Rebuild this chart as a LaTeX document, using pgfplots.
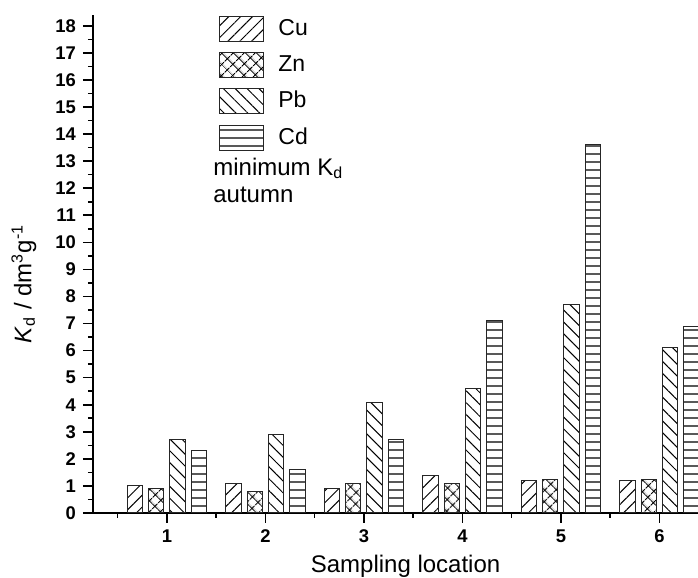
\documentclass[border=0pt]{standalone}
\usepackage{amsmath}
\usepackage{fontspec}
\setmainfont{Liberation Sans}
\usepackage{pgfplots}
\pgfplotsset{compat=1.18}
\usetikzlibrary{patterns.meta}
\pgfplotsset{
  legbox/.style={legend image code/.code={\draw[##1,line width=0.5pt] (0pt,-6.25pt) rectangle (22pt,6.25pt);}},
  barsty/.style={draw=black!85, line width=0.5pt, legbox},
}
\begin{document}
\begin{tikzpicture}
\begin{axis}[
  scale only axis, width=302.9pt, height=249pt,
  xmin=0.25, xmax=6.4, ymin=0, ymax=18.4,
  enlargelimits=false,
  ybar, bar width=0.157,
  axis x line=bottom, axis y line=left,
  axis line style={-, line width=0.9pt},
  xtick={1,...,6}, minor xtick={0.5,1.5,...,5.5},
  ytick={0,1,...,18}, minor ytick={0.5,1.5,...,17.5},
  tick align=outside, major tick length=5pt, minor tick length=2.5pt,
  every tick/.style={line width=0.8pt, black},
  /pgf/number format/assume math mode=true,
  ticklabel style={font=\bfseries\fontsize{9.2}{11}\selectfont},
  xlabel={Sampling location},
  xlabel style={at={(axis description cs:0.516,-0.1185)}, anchor=base, font=\fontsize{12}{14}\selectfont},
  ylabel={\textit{K}$_\text{d}$ / dm$^\text{3}$g$^\text{-1}$},
  ylabel style={at={(axis description cs:-0.114,0.46)}, anchor=center, font=\fontsize{12}{14}\selectfont},
  legend style={at={(axis description cs:0.208,1)}, anchor=north west, draw=none, fill=none,
    font=\fontsize{11.5}{13}\selectfont, row sep=4.5pt, column sep=5pt, inner sep=0pt},
  legend cell align=left,
  clip=true,
]
\addplot[barsty, bar shift=-0.324, pattern={Lines[angle=45,distance=4.2pt,line width=0.5pt]}] coordinates {(1,1.0) (2,1.1) (3,0.9) (4,1.4) (5,1.2) (6,1.2)};
\addlegendentry{Cu}
\addplot[barsty, bar shift=-0.108, pattern={Hatch[angle=45,distance=4pt,line width=0.5pt]}] coordinates {(1,0.9) (2,0.8) (3,1.1) (4,1.1) (5,1.25) (6,1.25)};
\addlegendentry{Zn}
\addplot[barsty, bar shift=0.108, pattern={Lines[angle=-45,distance=4.2pt,line width=0.5pt]}] coordinates {(1,2.7) (2,2.9) (3,4.1) (4,4.6) (5,7.7) (6,6.1)};
\addlegendentry{Pb}
\addplot[barsty, bar shift=0.324, pattern={Lines[angle=0,distance=4pt,line width=0.5pt]}] coordinates {(1,2.3) (2,1.6) (3,2.7) (4,7.1) (5,13.6) (6,6.9)};
\addlegendentry{Cd}
\node[anchor=base west, inner sep=0pt, font=\fontsize{12}{14}\selectfont] at (axis description cs:0.198,0.678) {minimum K$_\text{d}$};
\node[anchor=base west, inner sep=0pt, font=\fontsize{12}{14}\selectfont] at (axis description cs:0.198,0.6225) {autumn};
\end{axis}
\pgfresetboundingbox
\useasboundingbox (-46.5pt,-32.5pt) rectangle (302.5pt,256.5pt);
\end{tikzpicture}
\end{document}
